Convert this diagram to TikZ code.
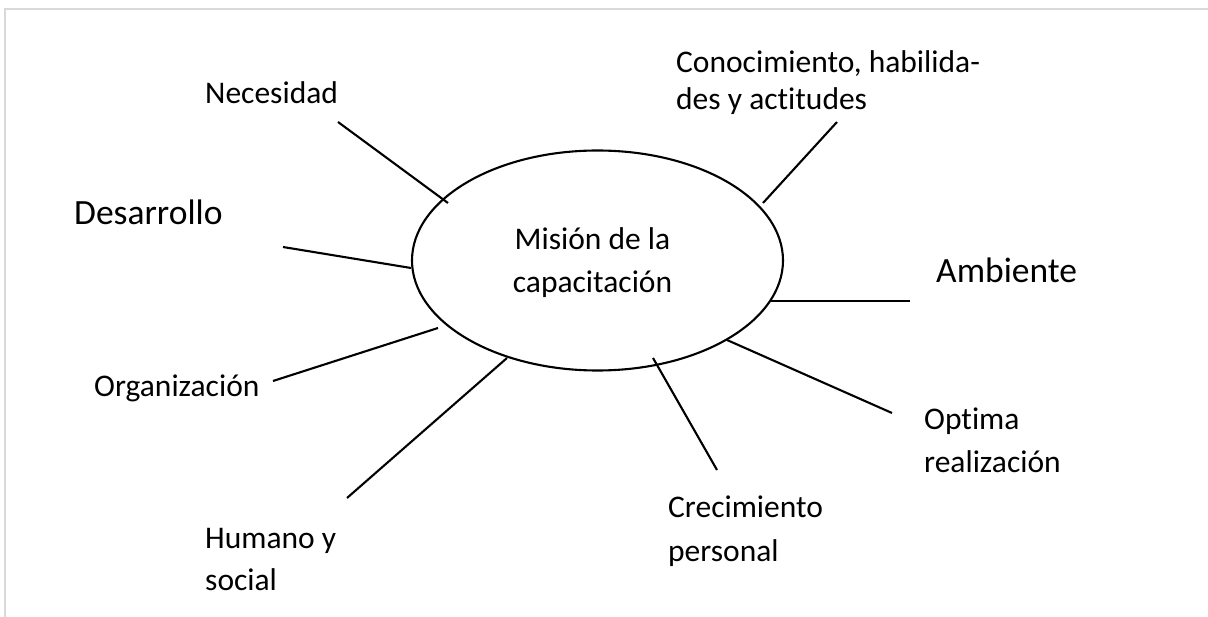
\documentclass[tikz,border=0pt]{standalone}
\usepackage{fontspec}
\setmainfont{Carlito}[Ligatures=NoCommon]
\usetikzlibrary{shapes.geometric}
\begin{document}
\begin{tikzpicture}[x=1pt,y=-1pt,
  lbl/.style={anchor=base west, inner sep=0pt, align=left, text=black},
  spoke/.style={draw=black, line width=2.1pt},
  frame/.style={draw=black!15, line width=1.5pt}]
\useasboundingbox (0,0) rectangle (1208,617);
\fill[white] (0,0) rectangle (1208,617);
\draw[frame] (1208,9) -- (5,9) -- (5,617);

\node[ellipse, draw=black, line width=2.1pt, minimum width=371pt, minimum height=220pt,
      inner sep=0pt, align=center, text depth=0pt, font=\fontsize{31.5}{43}\selectfont] (mis) at (597.5,260.5)
      {Misión de la\hspace*{10pt}\\capacitación\hspace*{10pt}};

\node[lbl, font=\fontsize{31.5}{38}\selectfont] (nec) at (205,104) {Necesidad};
\node[lbl, font=\fontsize{31.5}{37}\selectfont] (con) at (676,110) {Conocimiento, habilida-\\des y actitudes};
\node[lbl, font=\fontsize{35.5}{40}\selectfont] (des) at (74,225) {Desarrollo};
\node[lbl, font=\fontsize{35.5}{40}\selectfont] (amb) at (936,283) {Ambiente};
\node[lbl, font=\fontsize{31.5}{38}\selectfont] (org) at (94,397) {Organización};
\node[lbl, font=\fontsize{31.5}{42}\selectfont] (hum) at (205,590) {Humano y\\social};
\node[lbl, font=\fontsize{31.5}{44}\selectfont] (cre) at (668,561) {Crecimiento\\personal};
\node[lbl, font=\fontsize{31.5}{43}\selectfont] (opt) at (924,472) {Optima\\realización};

\coordinate (a1) at (338,122); \coordinate (b1) at (448,203);
\coordinate (a2) at (837,122); \coordinate (b2) at (763,203);
\coordinate (a3) at (283,247); \coordinate (b3) at (411,268);
\coordinate (a4) at (910,301); \coordinate (b4) at (771,301);
\coordinate (a5) at (273,381); \coordinate (b5) at (438,328);
\coordinate (a6) at (347,498); \coordinate (b6) at (507,358);
\coordinate (a7) at (717,470); \coordinate (b7) at (653,358);
\coordinate (a8) at (892,413); \coordinate (b8) at (727,340);

\foreach \i in {1,...,8} { \draw[spoke] (a\i) -- (b\i); }
\end{tikzpicture}
\end{document}
